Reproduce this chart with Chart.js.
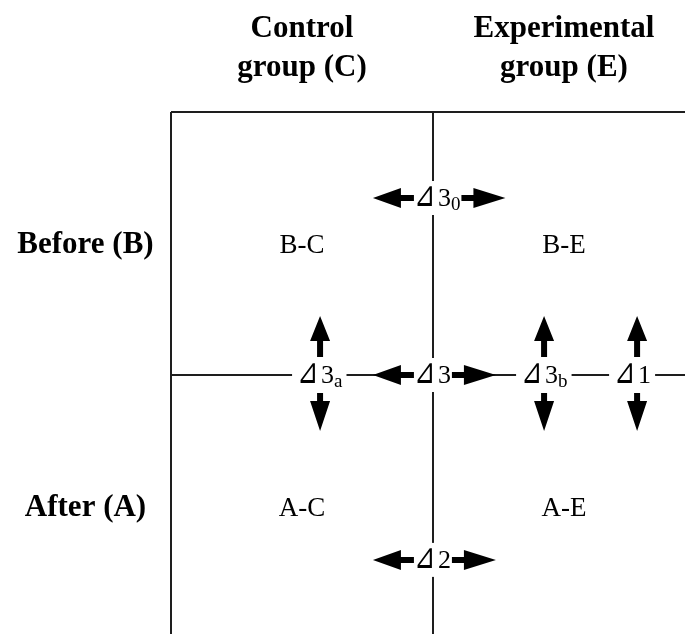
<!DOCTYPE html>
<html>
<head>
<meta charset="utf-8">
<script src="https://cdn.jsdelivr.net/npm/chart.js@4.4.1/dist/chart.umd.min.js"></script>
<style>
  html, body { margin: 0; padding: 0; background: #fff; }
  #wrap { width: 685px; height: 634px; }
</style>
</head>
<body>
<div id="wrap"><canvas id="chart" width="685" height="634"></canvas></div>
<script>
// --- Data ---
const groups = ['Control', 'Experimental'];
const groupCodes = ['C', 'E'];
const periods = ['Before', 'After'];
const periodCodes = ['B', 'A'];
// comparison labels: ⊿ + number + subscript
const deltaMain = ['3', '3', '2', '3', '3', '1'];
const deltaSub = ['0', '', '', 'a', 'b', ''];
const deltaDir = ['h', 'h', 'h', 'v', 'v', 'v'];

// --- Layout (grid units: one cell = 1) ---
const CELL_W = 262, CELL_H = 263, GRID_LEFT = 171, GRID_TOP = 112;
const W = 685, H = 634;
// where each comparison label starts (left edge of ⊿) and its centre line
const deltaAnchor = [[0.931, 0.327], [0.931, 1], [0.931, 1.703], [0.485, 1], [1.34, 1], [1.695, 1]];

const LINE = '#1e1e1e';
const SERIF = '"Liberation Serif", "Times New Roman", serif';

// grid lines built from the category counts
const datasets = [];
for (let c = 0; c <= groups.length; c++) {
  datasets.push({ data: [{ x: c, y: 0 }, { x: c, y: periods.length }] });
}
for (let r = 0; r <= periods.length; r++) {
  datasets.push({ data: [{ x: 0, y: r }, { x: groups.length, y: r }] });
}
datasets.forEach(d => Object.assign(d, {
  showLine: true, borderColor: LINE, borderWidth: 2, pointRadius: 0, fill: false
}));

function arrow(ctx, x1, y1, x2, y2, headLen, headHalf, shaftHalf) {
  const ang = Math.atan2(y2 - y1, x2 - x1);
  const len = Math.hypot(x2 - x1, y2 - y1);
  ctx.save();
  ctx.translate(x1, y1);
  ctx.rotate(ang);
  ctx.beginPath();
  ctx.moveTo(0, -shaftHalf);
  ctx.lineTo(len - headLen, -shaftHalf);
  ctx.lineTo(len - headLen, -headHalf);
  ctx.lineTo(len, 0);
  ctx.lineTo(len - headLen, headHalf);
  ctx.lineTo(len - headLen, shaftHalf);
  ctx.lineTo(0, shaftHalf);
  ctx.closePath();
  ctx.fill();
  ctx.restore();
}

function deltaWidth(ctx, main, sub) {
  ctx.font = '26px ' + SERIF;
  let w = 23 + ctx.measureText(main).width;
  if (sub) {
    ctx.font = '19px ' + SERIF;
    w += ctx.measureText(sub).width;
  }
  return w;
}

function drawDelta(ctx, x0, yc, main, sub) {
  const base = yc + 8;
  ctx.textAlign = 'left';
  ctx.textBaseline = 'alphabetic';
  // the triangle sign is a little taller than wide in the original
  ctx.save();
  ctx.translate(x0 - 1, base);
  ctx.scale(0.95, 1.3);
  ctx.font = '200 27px "DejaVu Sans", ' + SERIF;
  ctx.fillText('⊿', 0, 0);
  ctx.restore();
  ctx.font = '26px ' + SERIF;
  ctx.fillText(main, x0 + 23, base);
  if (sub) {
    const xs = x0 + 23 + ctx.measureText(main).width;
    ctx.font = '19px ' + SERIF;
    ctx.fillText(sub, xs, base + 4);
  }
}

const diagramPlugin = {
  id: 'diagram',
  afterDatasetsDraw(chart) {
    const ctx = chart.ctx;
    const xs = chart.scales.x, ys = chart.scales.y;
    const px = v => xs.getPixelForValue(v);
    const py = v => ys.getPixelForValue(v);
    ctx.save();
    ctx.fillStyle = '#000';
    ctx.textAlign = 'center';
    ctx.textBaseline = 'alphabetic';

    // column headers
    ctx.font = 'bold 31px ' + SERIF;
    groups.forEach((g, c) => {
      const x = px(c + 0.5);
      ctx.fillText(g, x, py(0) - 75);
      ctx.fillText('group (' + groupCodes[c] + ')', x, py(0) - 36);
    });

    // row headers
    const rowX = (chart.chartArea.left + px(0)) / 2;
    periods.forEach((p, r) => {
      ctx.font = 'bold 31px ' + SERIF;
      ctx.fillText(p + ' (' + periodCodes[r] + ')', rowX, py(r + 0.5) + 9);
      // cell labels
      ctx.font = '27px ' + SERIF;
      groups.forEach((g, c) => {
        ctx.fillText(periodCodes[r] + '-' + groupCodes[c], px(c + 0.5), py(r + 0.5) + 9);
      });
    });

    // comparison labels and arrows
    deltaMain.forEach((m, i) => {
      const x0 = px(deltaAnchor[i][0]);
      const yc = py(deltaAnchor[i][1]);
      const w = deltaWidth(ctx, m, deltaSub[i]);
      const x1 = x0 + w;
      ctx.fillStyle = '#fff';
      if (deltaDir[i] === 'h') {
        ctx.fillRect(x0 - 3, yc - 17, w + 6, 34);
      } else {
        ctx.fillRect(x0 - 6, yc - 4, w + 10, 8);
      }
      ctx.fillStyle = '#000';
      drawDelta(ctx, x0, yc, m, deltaSub[i]);
      if (deltaDir[i] === 'h') {
        arrow(ctx, x0 - 1, yc, x0 - 42, yc, 28, 10, 3);
        arrow(ctx, x1 + 1, yc, x1 + 45, yc, 32, 10, 3);
      } else {
        const ax = x0 + 22;
        arrow(ctx, ax, yc - 18, ax, yc - 59, 25, 10, 3);
        arrow(ctx, ax, yc + 18, ax, yc + 56, 30, 10, 3);
      }
    });
    ctx.restore();
  }
};

new Chart(document.getElementById('chart').getContext('2d'), {
  type: 'scatter',
  data: { datasets },
  options: {
    responsive: false,
    animation: false,
    devicePixelRatio: 1,
    layout: { padding: 0 },
    plugins: { legend: { display: false }, tooltip: { enabled: false } },
    scales: {
      x: { type: 'linear', display: false, min: -GRID_LEFT / CELL_W, max: (W - GRID_LEFT) / CELL_W },
      y: { type: 'linear', display: false, reverse: true, min: -GRID_TOP / CELL_H, max: (H - GRID_TOP) / CELL_H }
    }
  },
  plugins: [diagramPlugin]
});
</script>
</body>
</html>
